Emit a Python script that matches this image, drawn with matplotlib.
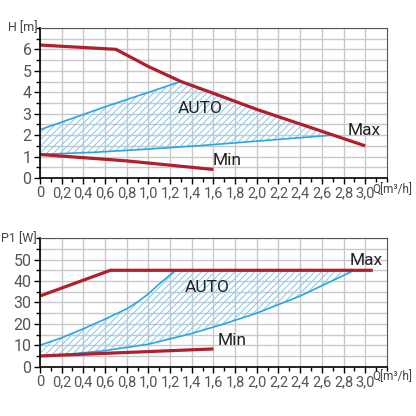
import numpy as np
import matplotlib.pyplot as plt
from matplotlib.ticker import MultipleLocator, FuncFormatter

# head curves H(Q)
q_max_h = [0, 0.7, 1.0, 1.3, 1.6, 2.0, 2.5, 3.0]
h_max = [6.2, 6.0, 5.2, 4.5, 3.95, 3.2, 2.35, 1.5]
q_min_h = [0, 0.8, 1.6]
h_min = [1.1, 0.8, 0.4]
q_auto_up_h = [0, 0.6, 1.3]
h_auto_up = [2.25, 3.32, 4.5]
q_auto_lo_h = [0, 0.5, 1.0, 1.5, 2.0, 2.7]
h_auto_lo = [1.1, 1.2, 1.35, 1.52, 1.72, 2.0]

# power curves P1(Q)
q_max_p = [0, 0.65, 3.07]
p_max = [33, 45, 45]
q_min_p = [0, 1.6]
p_min = [5, 8.3]
q_auto_up_p = [0, 0.2, 0.4, 0.6, 0.8, 0.9, 1.0, 1.1, 1.25]
p_auto_up = [10, 13.5, 17.7, 22.2, 27, 30.2, 34, 38.6, 45]
q_auto_lo_p = [0, 0.3, 0.6, 1.0, 1.4, 1.7, 2.0, 2.4, 2.9]
p_auto_lo = [5, 6, 7.5, 10.5, 15.5, 20, 25, 33, 45]

x_ticks = np.round(np.arange(0, 3.01, 0.2), 1)
h_ticks = [0, 1, 2, 3, 4, 5, 6]
p_ticks = [0, 10, 20, 30, 40, 50]

plt.rcParams['font.family'] = ['Roboto', 'DejaVu Sans']

RED = '#b01f2e'
BLUE = '#2aa6df'
HATCH = '#92cdec'
plt.rcParams['hatch.linewidth'] = 0.8

fig = plt.figure(figsize=(4.16, 4.16), dpi=100)
ax1 = fig.add_axes([0.096, 0.572, 0.834, 0.361])
ax2 = fig.add_axes([0.096, 0.1185, 0.834, 0.309])

comma = FuncFormatter(lambda v, p: ('%.1f' % v).replace('.', ',') if v > 0 else '0')


def style(ax, ymax, yticks, yminor):
    ax.set_xlim(0, 3.2)
    ax.set_ylim(0, ymax)
    ax.set_xticks(x_ticks)
    ax.xaxis.set_major_formatter(comma)
    ax.xaxis.set_minor_locator(MultipleLocator(0.1))
    ax.set_yticks(yticks)
    ax.yaxis.set_minor_locator(MultipleLocator(yminor))
    ax.grid(True, which='major', axis='x', color='#c8c8c8', lw=1)
    ax.grid(True, which='both', axis='y', color='#c8c8c8', lw=1)
    ax.set_axisbelow(True)
    ax.tick_params(which='both', direction='out', length=4, width=1,
                   labelsize=10.5, labelcolor='#555555', pad=2)
    ax.tick_params(axis='y', labelsize=11.5)
    ax.tick_params(which='minor', length=3)
    for s in ['top', 'right']:
        ax.spines[s].set_color('#555555')
    for s in ['left', 'bottom']:
        ax.spines[s].set_color('black')
        ax.spines[s].set_linewidth(1.2)
    ax.text(3.065, -0.075, 'Q[m³/h]', transform=ax.get_xaxis_transform(),
            fontsize=8.5, color='#444444', ha='left', va='center')


style(ax1, 7, h_ticks, 0.5)
style(ax2, 60, p_ticks, 5)

# hatched AUTO region, top
qq = np.linspace(0, 2.7, 200)
up = np.minimum(np.interp(qq, q_auto_up_h, h_auto_up, right=np.inf),
                np.interp(qq, q_max_h, h_max))
lo = np.interp(qq, q_auto_lo_h, h_auto_lo)
ax1.fill_between(qq, lo, up, facecolor='none', edgecolor=HATCH, hatch='/////', lw=0)
ax1.plot(q_auto_up_h, h_auto_up, color=BLUE, lw=1.2)
ax1.plot(q_auto_lo_h, h_auto_lo, color=BLUE, lw=1.2)
ax1.plot(q_max_h, h_max, color=RED, lw=2.3, solid_capstyle='butt')
ax1.plot(q_min_h, h_min, color=RED, lw=2.3, solid_capstyle='butt')
ax1.text(1.27, 3.25, 'AUTO', fontsize=12.5, color='#222222', va='center')
ax1.text(2.84, 2.2, 'Max', fontsize=12.5, color='#222222', va='center')
ax1.text(1.59, 0.8, 'Min', fontsize=12.5, color='#222222', va='center')
ax1.text(-0.008, 1.0, 'H [m]', transform=ax1.transAxes, fontsize=9,
         color='#444444', ha='right', va='center')

# hatched AUTO region, bottom
qq = np.linspace(0, 2.9, 200)
up = np.minimum(np.interp(qq, q_auto_up_p, p_auto_up, right=np.inf),
                np.interp(qq, q_max_p, p_max))
lo = np.interp(qq, q_auto_lo_p, p_auto_lo)
ax2.fill_between(qq, lo, up, facecolor='none', edgecolor=HATCH, hatch='/////', lw=0)
ax2.plot(q_auto_up_p, p_auto_up, color=BLUE, lw=1.2)
ax2.plot(q_auto_lo_p, p_auto_lo, color=BLUE, lw=1.2)
ax2.plot(q_max_p, p_max, color=RED, lw=2.3, solid_capstyle='butt')
ax2.plot(q_min_p, p_min, color=RED, lw=2.3, solid_capstyle='butt')
ax2.text(1.34, 37, 'AUTO', fontsize=12.5, color='#222222', va='center')
ax2.text(2.86, 49.6, 'Max', fontsize=12.5, color='#222222', va='center')
ax2.text(1.64, 12, 'Min', fontsize=12.5, color='#222222', va='center')
ax2.text(-0.008, 1.0, 'P1 [W]', transform=ax2.transAxes, fontsize=9,
         color='#444444', ha='right', va='center')

fig.savefig('out.png', dpi=100, facecolor='white')
